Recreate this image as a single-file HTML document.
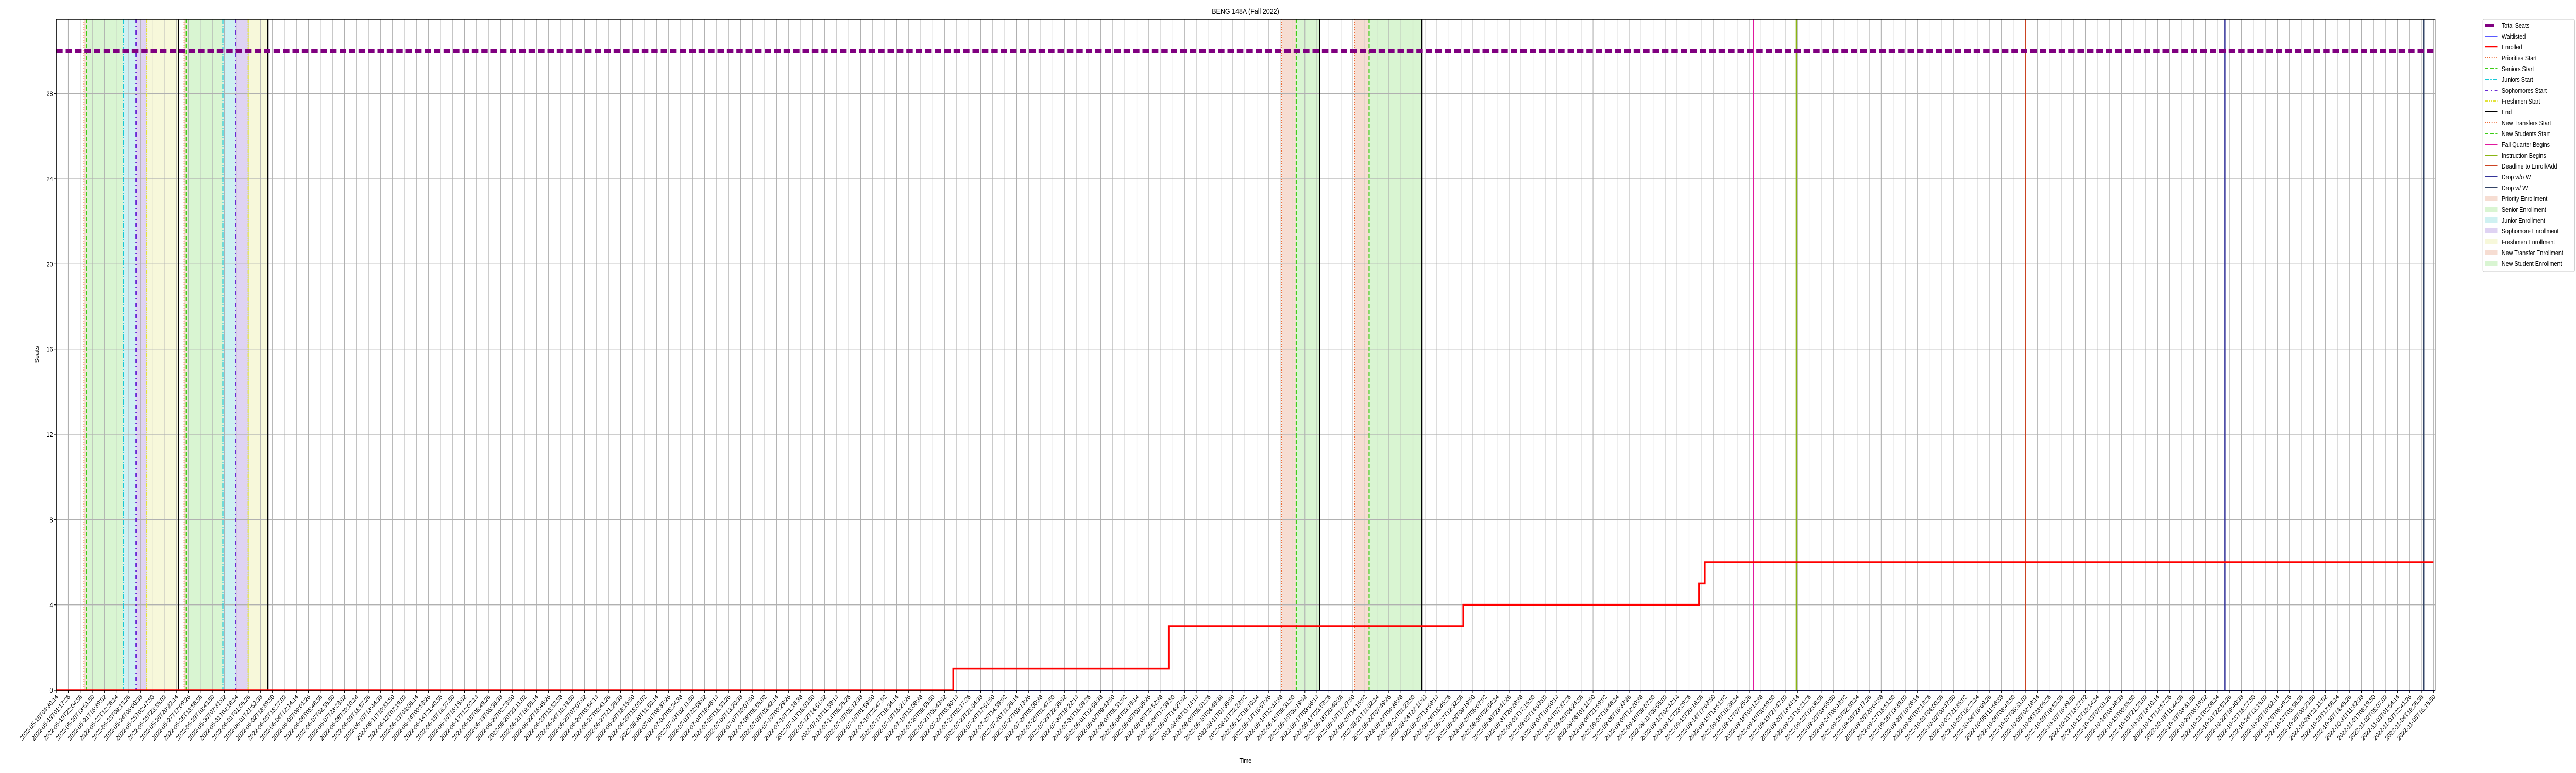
<!DOCTYPE html>
<html><head><meta charset="utf-8"><style>
html,body{margin:0;padding:0;background:#fff;width:100%;height:100%;overflow:hidden}
svg{position:fixed;left:0;top:0;width:100vw;height:100vh;display:block;overflow:hidden;font-family:"Liberation Sans","DejaVu Sans",sans-serif}
</style></head><body>
<svg id="chart" viewBox="0 0 6000 1500" preserveAspectRatio="none" xmlns="http://www.w3.org/2000/svg">
<text x="2901" y="27" font-size="15" text-anchor="middle">BENG 148A (Fall 2022)</text>
<text x="2901" y="1480" font-size="13" text-anchor="middle">Time</text>
<text x="0" y="0" font-size="13" text-anchor="middle" transform="translate(90,688) rotate(-90)">Seats</text>
<g id="shades"></g><g id="grid"></g><g id="vlines"></g><g id="series"></g><g id="axes"></g><g id="legend"></g>
</svg>
<script>
// ---- data (x in days since 2022-05-18T04:30:14) ----
const totalDays = 171.49;
const yTicks = [0,4,8,12,16,20,24,28];
const totalSeats = 30;
const enrolledStepDays = [0, 64.70, 80.25, 101.49, 118.50, 118.93, 171.49];
const enrolledValues   = [0, 1, 3, 4, 5, 6, 6];
const waitlistedValues = [0, 0];
const shadeStarts = [2.013, 2.168, 4.832, 5.761, 6.535, 9.230, 9.384, 12.017, 12.946, 13.844, 88.39, 89.45, 93.66, 94.71];
const shadeEnds   = [2.168, 4.832, 5.761, 6.535, 8.827, 9.384, 12.017, 12.946, 13.844, 15.269, 89.45, 91.15, 94.71, 98.52];
const shadeKinds  = ['prio','senior','junior','soph','fresh','prio','senior','junior','soph','fresh','transfer','newstud','transfer','newstud'];
const eventDays  = [2.013,2.168,4.832,5.761,6.535,8.827, 9.230,9.384,12.017,12.946,13.844,15.269, 88.39,89.45,91.15, 93.66,94.71,98.52, 122.43,125.53,142.07,156.44,170.78];
const eventKinds = ['prio','senior','junior','soph','fresh','end','prio','senior','junior','soph','fresh','end','transfer','newstud','end','transfer','newstud','end','fall','instr','deadline','dropnow','dropw'];
const tickCount = 199;
const startMs = Date.UTC(2022,4,18,4,30,14);
const tickLabels = [];
for (let i=0;i<tickCount;i++){ const t=new Date(startMs + i*(totalDays/(tickCount-1))*86400000); tickLabels.push(t.toISOString().slice(0,19)); }

// ---- geometry ----
const L=131,R=5672,T=37,B=1339, XR=5668, YMAX=31.5;
const X=d=>L+d/totalDays*(XR-L);
const Y=v=>B-v/YMAX*(B-T);
const NS='http://www.w3.org/2000/svg';
function mk(tag,attrs,parent){const e=document.createElementNS(NS,tag);for(const k in attrs)e.setAttribute(k,attrs[k]);parent.appendChild(e);return e;}
const shadeCol={prio:'#f6ddd2',senior:'#d9f5d2',junior:'#cff1f2',soph:'#dfd3f3',fresh:'#f7f8da',transfer:'#f6ddd2',newstud:'#d9f5d2'};
const lineSty={prio:['#ee6a33',2,'2,3'],senior:['#3ccc15',2.5,'8,4'],junior:['#15c8d6',2.5,'10,3,2,3'],soph:['#6a2ad6',2.5,'8,6,2,6'],fresh:['#e2e23a',2.5,'8,2,2,2,2,2'],end:['#000',3,''],transfer:['#ee6a33',2,'2,3'],newstud:['#3ccc15',2.5,'8,4'],fall:['#e0189e',2.5,''],instr:['#8ab513',2.5,''],deadline:['#cc4422',2.5,''],dropnow:['#333399',3,''],dropw:['#334466',3,'']};

const gS=document.getElementById('shades');
for(let i=0;i<shadeStarts.length;i++){
  const r=mk('rect',{x:X(shadeStarts[i]),y:T,width:X(shadeEnds[i])-X(shadeStarts[i]),height:B-T,fill:shadeCol[shadeKinds[i]]},gS);
  
  
}
const gG=document.getElementById('grid');
const gA=document.getElementById('axes');
for(let i=0;i<tickCount;i++){
  const x=L+i*(XR-L)/(tickCount-1);
  mk('line',{x1:x,x2:x,y1:T,y2:B,stroke:'#b0b0b0','stroke-width':1.3},gG);
  mk('line',{x1:x,x2:x,y1:B,y2:B+5,stroke:'#000','stroke-width':1.2},gA);
  const t=mk('text',{x:0,y:0,'font-size':12.5,'text-anchor':'end',transform:`translate(${x+5},${B+14}) rotate(-45)`},gA);
  t.textContent=tickLabels[i];
  
  
}
yTicks.forEach(v=>{
  const y=Y(v);
  mk('line',{x1:L,x2:R,y1:y,y2:y,stroke:'#b0b0b0','stroke-width':1.3},gG);
  mk('line',{x1:L-5,x2:L,y1:y,y2:y,stroke:'#000','stroke-width':1.2},gA);
  const t=mk('text',{x:L-8,y:y+5,'font-size':13,'text-anchor':'end'},gA);
  t.textContent=v;
  
  
});
const gV=document.getElementById('vlines');
for(let i=0;i<eventDays.length;i++){
  const s=lineSty[eventKinds[i]];const x=X(eventDays[i]);
  const l=mk('line',{x1:x,x2:x,y1:T,y2:B,stroke:s[0],'stroke-width':s[1],'stroke-dasharray':s[2]},gV);
  
  
}
const gSe=document.getElementById('series');
const ts=mk('line',{x1:L,x2:R,y1:Y(totalSeats),y2:Y(totalSeats),stroke:'#800080','stroke-width':6,'stroke-dasharray':'15,7'},gSe);


const wl=mk('line',{x1:L,x2:R,y1:Y(waitlistedValues[0]),y2:Y(waitlistedValues[1]),stroke:'#2222ff','stroke-width':2},gSe);


let d='M'+X(enrolledStepDays[0])+','+Y(enrolledValues[0]);
for(let i=1;i<enrolledStepDays.length;i++){d+=' H'+X(enrolledStepDays[i])+' V'+Y(enrolledValues[i]);}
const en=mk('path',{d:d,fill:'none',stroke:'#ff0000','stroke-width':3.5},gSe);


const fr=mk('rect',{x:L,y:T,width:R-L,height:B-T,fill:'none',stroke:'#000','stroke-width':1.5},gA);



// legend
const legendLabels=['Total Seats','Waitlisted','Enrolled','Priorities Start','Seniors Start','Juniors Start','Sophomores Start','Freshmen Start','End','New Transfers Start','New Students Start','Fall Quarter Begins','Instruction Begins','Deadline to Enroll/Add','Drop w/o W','Drop w/ W','Priority Enrollment','Senior Enrollment','Junior Enrollment','Sophomore Enrollment','Freshmen Enrollment','New Transfer Enrollment','New Student Enrollment'];
const legendKinds=['total','wait','enr','prio','senior','junior','soph','fresh','end','transfer','newstud','fall','instr','deadline','dropnow','dropw','s:prio','s:senior','s:junior','s:soph','s:fresh','s:transfer','s:newstud'];
const gL=document.getElementById('legend');
const lb=mk('rect',{x:5783,y:37,width:214,height:490,rx:3,fill:'#fff',stroke:'#d0d0d0','stroke-width':1.2},gL);


legendLabels.forEach((lab,i)=>{
  const y=49+i*21, k=legendKinds[i];
  const g=mk('g',{},gL);
  
  
  if(k==='total') mk('line',{x1:5788,x2:5808,y1:y,y2:y,stroke:'#800080','stroke-width':6},g);
  else if(k==='wait') mk('line',{x1:5788,x2:5817,y1:y,y2:y,stroke:'#2222ff','stroke-width':1.5},g);
  else if(k==='enr') mk('line',{x1:5788,x2:5817,y1:y,y2:y,stroke:'#ff0000','stroke-width':2.5},g);
  else if(k.startsWith('s:')) mk('rect',{x:5788,y:y-5,width:29,height:10,fill:shadeCol[k.slice(2)]},g);
  else {const s=lineSty[k];mk('line',{x1:5788,x2:5817,y1:y,y2:y,stroke:s[0],'stroke-width':2,'stroke-dasharray':s[2]},g);}
  const t=mk('text',{x:5827,y:y+5,'font-size':13},g);
  t.textContent=lab;
});
</script>
</body></html>
